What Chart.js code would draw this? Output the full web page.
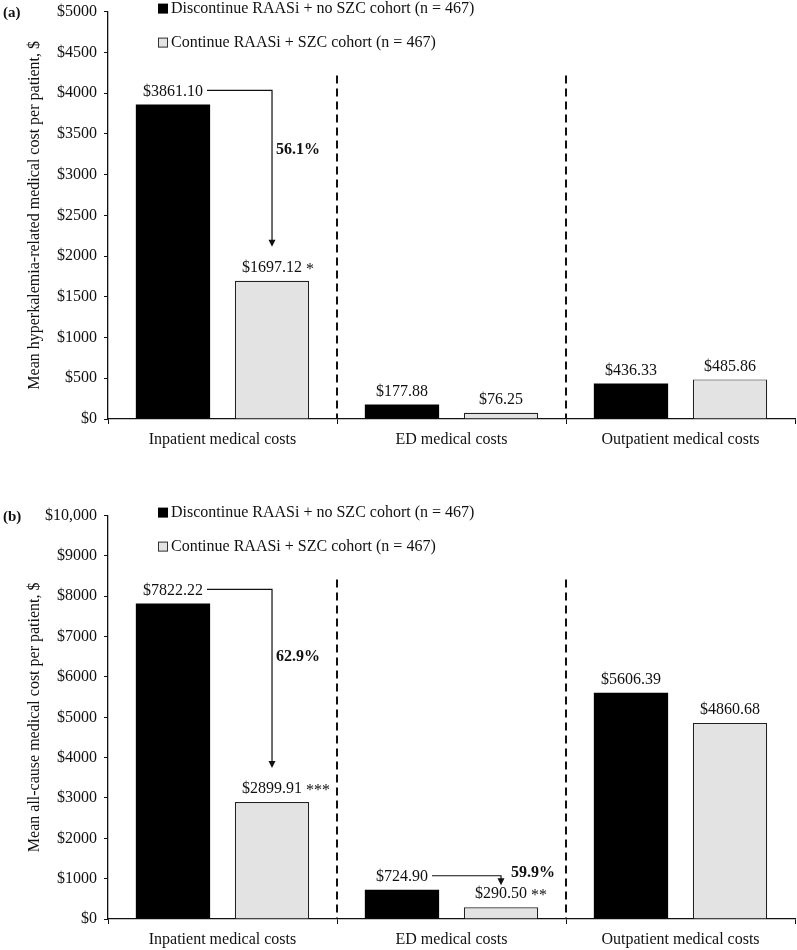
<!DOCTYPE html>
<html>
<head>
<meta charset="utf-8">
<script src="https://cdn.jsdelivr.net/npm/chart.js@4"></script>
<style>
  html, body { margin: 0; padding: 0; background: #fff; }
  body { width: 797px; height: 950px; position: relative; overflow: hidden; }
  .box { position: absolute; left: 0; width: 797px; }
  #boxA { top: -5px; height: 454px; }
  #boxB { top: 499px; height: 450px; }
</style>
</head>
<body>
<div class="box" id="boxA"><canvas id="chartA"></canvas></div>
<div class="box" id="boxB"><canvas id="chartB"></canvas></div>
<script>
// ---- data ----
const categories = ['Inpatient medical costs', 'ED medical costs', 'Outpatient medical costs'];
const seriesNames = ['Discontinue RAASi + no SZC cohort (n = 467)', 'Continue RAASi + SZC cohort (n = 467)'];

const hkDiscontinue = [3861.10, 177.88, 436.33];
const hkContinue = [1697.12, 76.25, 485.86];
const hkSignif = ['*', '', ''];
const hkTickLabels = ['$0', '$500', '$1000', '$1500', '$2000', '$2500', '$3000', '$3500', '$4000', '$4500', '$5000'];
const hkReductions = [{ cat: 0, text: '56.1%' }];

const allDiscontinue = [7822.22, 724.90, 5606.39];
const allContinue = [2899.91, 290.50, 4860.68];
const allSignif = ['***', '**', ''];
const allTickLabels = ['$0', '$1000', '$2000', '$3000', '$4000', '$5000', '$6000', '$7000', '$8000', '$9000', '$10,000'];
const allReductions = [{ cat: 0, text: '62.9%' }, { cat: 1, text: '59.9%' }];

// ---- styling ----
const SERIF = '"Liberation Serif", "Times New Roman", serif';
const BLACK = '#000000';
const GREY = '#e3e3e3';

const annotPlugin = {
  id: 'annot',
  afterDatasetsDraw(chart) {
    const o = chart.options.plugins.annot;
    const ctx = chart.ctx;
    const ca = chart.chartArea;
    const xs = chart.scales.x;
    const m0 = chart.getDatasetMeta(0).data;
    const m1 = chart.getDatasetMeta(1).data;
    ctx.save();

    // dashed dividers between categories
    ctx.strokeStyle = '#111';
    ctx.lineWidth = 2;
    ctx.setLineDash([8, 5]);
    for (let i = 0; i < categories.length - 1; i++) {
      const bx = (xs.getPixelForValue(i) + xs.getPixelForValue(i + 1)) / 2;
      ctx.beginPath();
      ctx.moveTo(bx, ca.top + 64);
      ctx.lineTo(bx, ca.bottom);
      ctx.stroke();
    }
    ctx.setLineDash([]);

    // value labels
    ctx.fillStyle = '#111';
    ctx.font = '16px ' + SERIF;
    ctx.textBaseline = 'middle';
    const fmt = v => '$' + v.toFixed(2);
    [m0, m1].forEach((meta, d) => {
      const vals = d === 0 ? o.dis : o.con;
      meta.forEach((bar, i) => {
        const t = fmt(vals[i]);
        const y = bar.y - 13;
        ctx.textAlign = 'center';
        ctx.fillText(t, bar.x, y);
        if (d === 1 && o.sig[i]) {
          const w = ctx.measureText(t).width;
          ctx.textAlign = 'left';
          ctx.fillText(o.sig[i], bar.x + w / 2 + 4, y + 2);
        }
      });
    });

    // reduction brackets
    o.red.forEach(r => {
      const b0 = m0[r.cat], b1 = m1[r.cat];
      ctx.font = '16px ' + SERIF;
      const w = ctx.measureText(fmt(o.dis[r.cat])).width;
      const lineY = b0.y - 14;
      const sx = b0.x + w / 2 + 4;
      const ex = b1.x;
      const short = (b1.y - b0.y) < 60;
      const tipY = b1.y - (short ? 22 : 34);
      ctx.strokeStyle = '#111';
      ctx.lineWidth = 1.2;
      ctx.beginPath();
      ctx.moveTo(sx, lineY);
      ctx.lineTo(ex, lineY);
      ctx.lineTo(ex, tipY - 6);
      ctx.stroke();
      ctx.fillStyle = '#111';
      ctx.beginPath();
      ctx.moveTo(ex - 3.5, tipY - 7);
      ctx.lineTo(ex + 3.5, tipY - 7);
      ctx.lineTo(ex, tipY);
      ctx.closePath();
      ctx.fill();
      ctx.font = 'bold 16px ' + SERIF;
      ctx.textAlign = 'left';
      ctx.textBaseline = 'middle';
      const ty = short ? lineY - 3 : lineY + 0.38 * (tipY - lineY);
      const tx = short ? ex + 10 : ex + 4;
      ctx.fillText(r.text, tx, ty);
    });

    // legend
    ctx.font = '16px ' + SERIF;
    ctx.textAlign = 'left';
    ctx.textBaseline = 'middle';
    const ly = [ca.top - 3, ca.top + 31];
    seriesNames.forEach((name, i) => {
      const y = ly[i];
      if (i === 0) {
        ctx.fillStyle = BLACK;
        ctx.fillRect(158, y - 5, 10, 10);
      } else {
        ctx.fillStyle = GREY;
        ctx.fillRect(158, y - 5, 10, 10);
        ctx.strokeStyle = '#333';
        ctx.lineWidth = 1;
        ctx.strokeRect(158.5, y - 4.5, 9, 9);
      }
      ctx.fillStyle = '#111';
      ctx.fillText(name, 171, y);
    });

    // panel label
    ctx.font = 'bold 15px ' + SERIF;
    ctx.fillStyle = '#111';
    ctx.fillText(o.panel, 3, ca.top + 2);
    ctx.restore();
  }
};

function makeChart(id, dis, con, sig, ticks, red, yMax, step, yTitle, panel) {
  return new Chart(document.getElementById(id), {
    type: 'bar',
    data: {
      labels: categories,
      datasets: [
        { label: seriesNames[0], data: dis, backgroundColor: BLACK, borderColor: BLACK, borderWidth: 0 },
        { label: seriesNames[1], data: con, backgroundColor: GREY, borderColor: '#222', borderWidth: 1.2 }
      ]
    },
    options: {
      responsive: true,
      maintainAspectRatio: false,
      animation: false,
      categoryPercentage: 0.865,
      barPercentage: 0.75,
      layout: { padding: { top: 10, left: 0, right: 2, bottom: 0 } },
      plugins: {
        legend: { display: false },
        tooltip: { enabled: false },
        annot: { dis: dis, con: con, sig: sig, red: red, panel: panel }
      },
      scales: {
        x: {
          grid: { display: true, drawOnChartArea: false, drawTicks: true, tickLength: 5, color: '#111', offset: true },
          border: { display: true, color: '#111', width: 1.3 },
          ticks: { color: '#111', font: { family: SERIF, size: 16 }, padding: 6, maxRotation: 0 },
          afterFit: s => { s.height = 30; }
        },
        y: {
          min: 0, max: yMax,
          grid: { display: true, drawOnChartArea: false, drawTicks: true, tickLength: 4, color: '#111' },
          border: { display: true, color: '#111', width: 1.3 },
          ticks: {
            stepSize: step, color: '#111', font: { family: SERIF, size: 16 }, padding: 7,
            callback: (v, i) => ticks[i]
          },
          title: { display: true, text: yTitle, color: '#111', font: { family: SERIF, size: 16 }, padding: { top: 25, bottom: 0 } },
          afterFit: s => { s.width = 108; }
        }
      }
    },
    plugins: [annotPlugin]
  });
}

makeChart('chartA', hkDiscontinue, hkContinue, hkSignif, hkTickLabels, hkReductions, 5000, 500,
  'Mean hyperkalemia-related medical cost per patient, $', '(a)');
makeChart('chartB', allDiscontinue, allContinue, allSignif, allTickLabels, allReductions, 10000, 1000,
  'Mean all-cause medical cost per patient, $', '(b)');
</script>
</body>
</html>
